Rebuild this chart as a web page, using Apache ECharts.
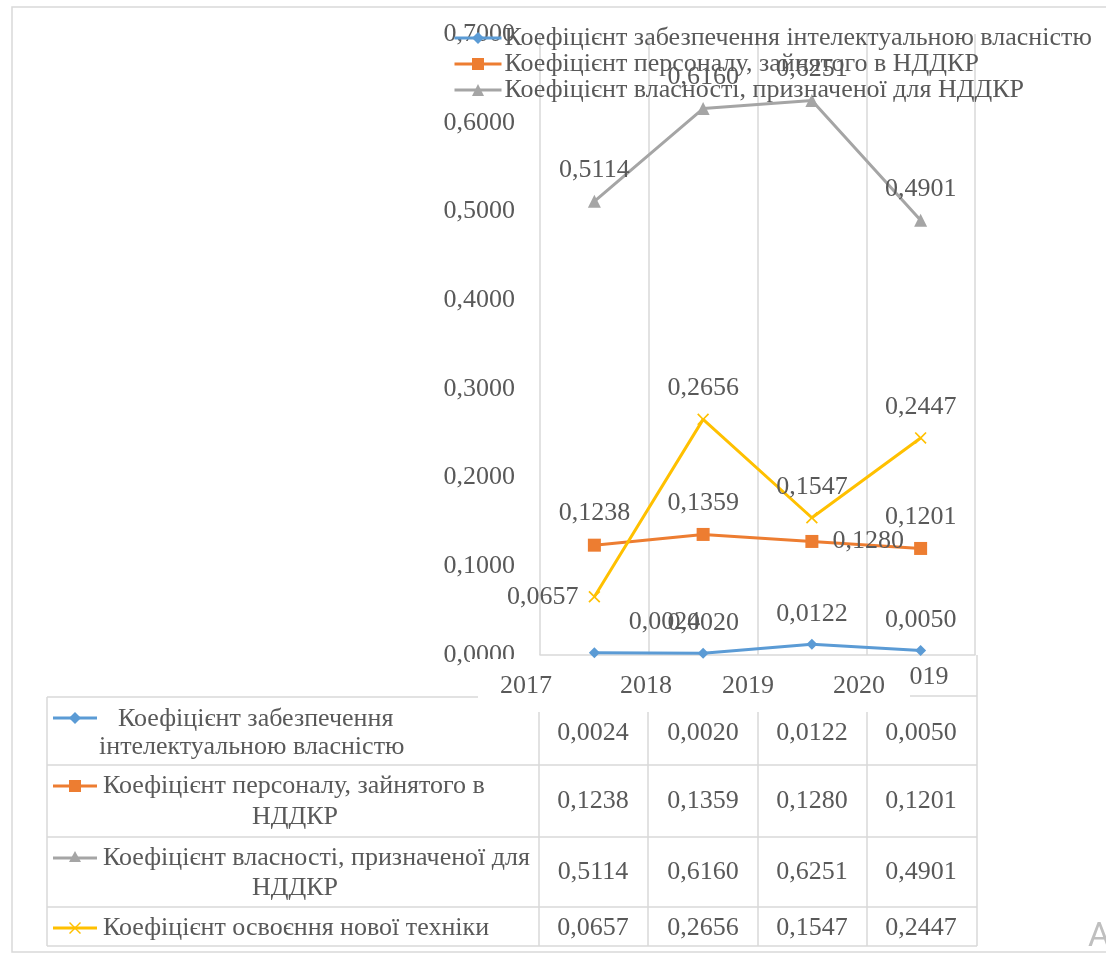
<!DOCTYPE html>
<html>
<head>
<meta charset="utf-8">
<script src="https://cdn.jsdelivr.net/npm/echarts@6/dist/echarts.min.js"></script>
<style>
  html, body { margin: 0; padding: 0; background: #fff; }
  #chart { width: 1106px; height: 958px; }
</style>
</head>
<body>
<div id="chart"></div>
<script>
// categories and header row
var years = ['2017', '2018', '2019', '2020'];
var headerLabels = ['2017', '2018', '2019', '2020', '019'];

// series names
var seriesNames = [
  'Коефіцієнт забезпечення інтелектуальною власністю',
  'Коефіцієнт персоналу, зайнятого в НДДКР',
  'Коефіцієнт власності, призначеної для НДДКР',
  'Коефіцієнт освоєння нової техніки'
];

// values
var ipRatio = [0.0024, 0.0020, 0.0122, 0.0050];
var staffRatio = [0.1238, 0.1359, 0.1280, 0.1201];
var assetRatio = [0.5114, 0.6160, 0.6251, 0.4901];
var newTechRatio = [0.0657, 0.2656, 0.1547, 0.2447];

// y axis ticks
var yMin = 0, yMax = 0.7, yStep = 0.1;

var colors = ['#5b9bd5', '#ed7d31', '#a5a5a5', '#ffc000'];
var txt = '#595959';
var serif = "'Liberation Serif', 'Times New Roman', serif";
var fs = 26;
var gridLine = '#d9d9d9';
var xMark = 'path://M0,1L1,0L5,4L9,0L10,1L6,5L10,9L9,10L5,6L1,10L0,9L4,5Z';

var fmt = function(v) { return v.toFixed(4).replace('.', ','); };

var myChart = echarts.init(document.getElementById('chart'));

var labelStyle = {
  show: true,
  position: 'top',
  distance: 12,
  color: txt,
  fontFamily: serif,
  fontSize: fs,
  formatter: function(p) { return fmt(p.value); }
};

var mkSeries = function(name, values, color, symbol, size, special) {
  return {
    name: name,
    type: 'line',
    z: 3,
    data: values.map(function(v, i) {
      if (special && special[i]) return { value: v, label: special[i] };
      return v;
    }),
    symbol: symbol,
    symbolSize: size,
    lineStyle: { color: color, width: 3 },
    itemStyle: { color: color },
    label: labelStyle,
    emphasis: { disabled: true },
    animation: false
  };
};

// table (drawn under the plot)
var tableEls = [];
var line = function(x1, y1, x2, y2) {
  tableEls.push({ type: 'line', shape: { x1: x1, y1: y1, x2: x2, y2: y2 }, style: { stroke: gridLine, lineWidth: 1.5 }, silent: true });
};
var text = function(s, x, y, align) {
  tableEls.push({ type: 'text', x: x, y: y, style: { text: s, font: fs + 'px ' + serif, fill: txt, textAlign: align || 'left', textVerticalAlign: 'middle' }, silent: true });
};

// outer frame
tableEls.push({ type: 'rect', shape: { x: 12, y: 7, width: 1120, height: 945 }, style: { fill: 'none', stroke: gridLine, lineWidth: 1.5 }, silent: true });

var rowLines = [765, 837, 907, 946];
var colLines = [539, 648, 758, 867];
line(47, 697, 478, 697);
line(910, 696, 977, 696);
line(47, 697, 47, 946);
rowLines.forEach(function(y) { line(47, y, 977, y); });
colLines.forEach(function(x) { line(x, 712, x, 946); });
line(977, 655, 977, 946);

// header row
var headerPos = [[526, 686], [646, 686], [748, 686], [859, 686], [929, 677]];
headerLabels.forEach(function(s, i) { text(s, headerPos[i][0], headerPos[i][1], 'center'); });

// row labels
var rowY = [733, 801, 872, 928];
text('Коефіцієнт забезпечення', 118, 719);
text('інтелектуальною власністю', 99, 747);
text('Коефіцієнт персоналу, зайнятого в', 103, 786);
text('НДДКР', 295, 817, 'center');
text('Коефіцієнт власності, призначеної для', 103, 858);
text('НДДКР', 295, 888, 'center');
text('Коефіцієнт освоєння нової техніки', 103, 928);

// row icons
var iconY = [718, 786, 858, 928];
iconY.forEach(function(y, i) {
  tableEls.push({ type: 'line', shape: { x1: 53, y1: y, x2: 97, y2: y }, style: { stroke: colors[i], lineWidth: 3 }, silent: true });
});
tableEls.push({ type: 'polygon', shape: { points: [[75, 712], [81, 718], [75, 724], [69, 718]] }, style: { fill: colors[0] }, silent: true });
tableEls.push({ type: 'rect', shape: { x: 69, y: 780, width: 12, height: 12 }, style: { fill: colors[1] }, silent: true });
tableEls.push({ type: 'polygon', shape: { points: [[75, 851], [81, 862], [69, 862]] }, style: { fill: colors[2] }, silent: true });
tableEls.push({ type: 'polygon', shape: { points: [[69, 923], [70, 922], [75, 927], [80, 922], [81, 923], [76, 928], [81, 933], [80, 934], [75, 929], [70, 934], [69, 933], [74, 928]] }, style: { fill: colors[3] }, silent: true });

// table values
var cellX = [593, 703, 812, 921];
[ipRatio, staffRatio, assetRatio, newTechRatio].forEach(function(arr, r) {
  arr.forEach(function(v, c) { text(fmt(v), cellX[c], rowY[r], 'center'); });
});

tableEls.push({ type: 'text', x: 1088, y: 937, style: { text: 'A', font: '34px Roboto, sans-serif', fill: '#bfbfbf', textVerticalAlign: 'middle' }, silent: true });

var option = {
  backgroundColor: '#fff',
  animation: false,
  color: colors,
  grid: { left: 540, right: 131, top: 34, bottom: 303, outerBoundsMode: 'none' },
  legend: {
    data: seriesNames.slice(0, 3),
    orient: 'vertical',
    left: 453,
    top: 25,
    padding: 0,
    itemWidth: 47,
    itemHeight: 15,
    itemGap: 0,
    z: 4,
    lineStyle: { width: 3 },
    textStyle: { color: txt, fontFamily: serif, fontSize: fs, padding: [0, 0, 0, -2] },
    selectedMode: false
  },
  xAxis: {
    type: 'category',
    data: years,
    boundaryGap: true,
    axisLabel: { show: false },
    axisTick: { show: false },
    axisLine: { lineStyle: { color: gridLine, width: 1.5 } },
    splitLine: { show: true, lineStyle: { color: gridLine, width: 1.5 } }
  },
  yAxis: {
    type: 'value',
    min: yMin,
    max: yMax,
    interval: yStep,
    axisLine: { show: false },
    axisTick: { show: false },
    splitLine: { show: false },
    axisLabel: { margin: 25, color: txt, fontFamily: serif, fontSize: fs, formatter: fmt }
  },
  graphic: {
    elements: [
      { type: 'group', z: 1, children: tableEls },
      // white strip behind the header row, hiding the foot of the lowest tick label
      { type: 'rect', z: 2, shape: { x: 470, y: 659, width: 440, height: 14 }, style: { fill: '#fff' }, silent: true }
    ]
  },
  series: [
    mkSeries(seriesNames[0], ipRatio, colors[0], 'diamond', 11, { 0: { offset: [70, 0] } }),
    mkSeries(seriesNames[1], staffRatio, colors[1], 'rect', 13, { 2: { position: 'right', distance: 14 } }),
    mkSeries(seriesNames[2], assetRatio, colors[2], 'triangle', 13),
    mkSeries(seriesNames[3], newTechRatio, colors[3], xMark, 12, { 0: { position: 'left', distance: 10 } })
  ]
};

myChart.setOption(option);
</script>
</body>
</html>
